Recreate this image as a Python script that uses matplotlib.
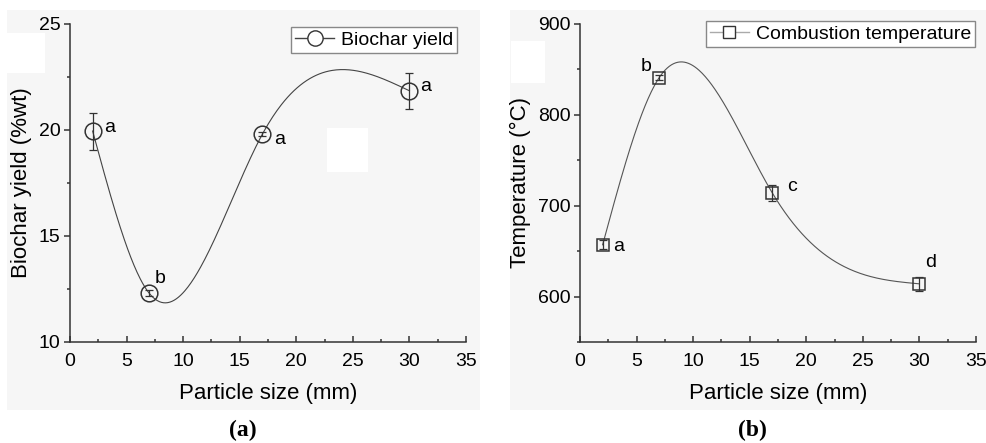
"""Biochar yield and combustion temperature vs particle size."""

import matplotlib as mpl
import numpy as np
from matplotlib import pyplot as plt
from matplotlib.patches import Rectangle
from matplotlib.ticker import MultipleLocator

mpl.use("Agg")

plt.rcParams["font.family"] = ["Liberation Sans", "DejaVu Sans"]

particle_size = [2, 7, 17, 30]

yield_values = [19.95, 12.3, 19.8, 21.85]
yield_errors = [0.87, 0.15, 0.1, 0.85]
yield_letters = ["a", "b", "a", "a"]
yield_offsets = [(17, 4), (11, 15), (17, -5), (16, 4)]

temp_values = [657, 841, 714, 614]
temp_errors = [5, 3, 9, 8]
temp_letters = ["a", "b", "c", "d"]
temp_offsets = [(16, -2), (-13, 11), (20, 6), (11, 21)]

W, H = 987, 443
BG = "#f6f6f6"
EDGE = "#333333"


def natural_spline(x, y, num=300):
    """Return a natural cubic spline through the given points."""
    x = np.asarray(x, dtype=float)
    y = np.asarray(y, dtype=float)
    n = len(x)
    h = np.diff(x)
    a = np.zeros((n, n))
    b = np.zeros(n)
    a[0, 0] = a[-1, -1] = 1.0
    for i in range(1, n - 1):
        a[i, i - 1] = h[i - 1]
        a[i, i] = 2 * (h[i - 1] + h[i])
        a[i, i + 1] = h[i]
        b[i] = 6 * ((y[i + 1] - y[i]) / h[i] - (y[i] - y[i - 1]) / h[i - 1])
    m = np.linalg.solve(a, b)
    xs = np.linspace(x[0], x[-1], num)
    idx = np.clip(np.searchsorted(x, xs) - 1, 0, n - 2)
    x0, x1 = x[idx], x[idx + 1]
    hh = x1 - x0
    t0, t1 = x1 - xs, xs - x0
    ys = (m[idx] * t0**3 + m[idx + 1] * t1**3) / (6 * hh) + (
        y[idx] / hh - m[idx] * hh / 6
    ) * t0 + (y[idx + 1] / hh - m[idx + 1] * hh / 6) * t1
    return xs, ys


def style_axes(ax, ylim, ymajor, yminor):
    ax.set_xlim(0, 35)
    ax.set_ylim(*ylim)
    ax.xaxis.set_major_locator(MultipleLocator(5))
    ax.xaxis.set_minor_locator(MultipleLocator(2.5))
    ax.yaxis.set_major_locator(MultipleLocator(ymajor))
    ax.yaxis.set_minor_locator(MultipleLocator(yminor))
    for side in ("top", "right"):
        ax.spines[side].set_visible(False)
    for side in ("left", "bottom"):
        ax.spines[side].set_color(EDGE)
        ax.spines[side].set_linewidth(1.1)
    ax.tick_params(axis="x", which="both", direction="in", colors=EDGE,
                   labelcolor="black", labelsize=14, pad=8)
    ax.tick_params(axis="y", which="both", direction="out", colors=EDGE,
                   labelcolor="black", labelsize=14, pad=3)
    ax.tick_params(which="major", length=4, width=1.1)
    ax.tick_params(which="minor", length=2.5, width=1.1)
    ax.set_xlabel("Particle size (mm)", fontsize=16, labelpad=9)


def draw_panel(ax, values, errors, letters, offsets, marker, msize, line_color):
    xs, ys = natural_spline(particle_size, values)
    ax.plot(xs, ys, color=line_color, lw=0.8, zorder=2)
    ax.errorbar(particle_size, values, yerr=errors, fmt="none", ecolor=EDGE,
                elinewidth=0.9, capsize=3, capthick=0.9, zorder=3)
    ax.plot(particle_size, values, linestyle="none", marker=marker,
            markersize=msize, markerfacecolor="none", markeredgecolor=EDGE,
            markeredgewidth=1.1, zorder=4)
    for x, y, text, off in zip(particle_size, values, letters, offsets):
        ax.annotate(text, (x, y), xytext=off, textcoords="offset pixels",
                    ha="center", va="center", fontsize=14)


fig = plt.figure(figsize=(W / 100, H / 100), dpi=100, facecolor="white")

# light grey panel backgrounds with the white patches seen in the source
for x0, y0, x1, y1, color in [
    (7, 10, 480, 410, BG),
    (510, 10, 987, 410, BG),
    (7, 33, 45, 73, "white"),
    (327, 128, 368, 172, "white"),
    (511, 41, 545, 83, "white"),
]:
    fig.patches.append(Rectangle((x0 / W, 1 - y1 / H), (x1 - x0) / W,
                                 (y1 - y0) / H, transform=fig.transFigure,
                                 facecolor=color, edgecolor="none", zorder=-5))

ax_a = fig.add_axes([70 / W, 1 - 342 / H, 396 / W, 318 / H])
ax_b = fig.add_axes([580 / W, 1 - 342 / H, 396 / W, 318 / H])
for ax in (ax_a, ax_b):
    ax.patch.set_alpha(0)

style_axes(ax_a, (10, 25), 5, 2.5)
draw_panel(ax_a, yield_values, yield_errors, yield_letters, yield_offsets,
           "o", 12, "#444444")
ax_a.set_ylabel("Biochar yield (%wt)", fontsize=16, labelpad=5)

style_axes(ax_b, (550, 900), 100, 50)
draw_panel(ax_b, temp_values, temp_errors, temp_letters, temp_offsets,
           "s", 9, "#555555")
ax_b.set_ylabel("Temperature (°C)", fontsize=16, labelpad=5)

legend_a = ax_a.legend(
    handles=[mpl.lines.Line2D([], [], color="#444444", lw=1.0, marker="o",
                              markersize=11, markerfacecolor="white",
                              markeredgecolor=EDGE)],
    labels=["Biochar yield"], loc="upper right",
    bbox_to_anchor=(0.977, 0.99), borderaxespad=0, fontsize=14,
    handlelength=2.0, handletextpad=0.35, borderpad=0.2, fancybox=False,
    edgecolor="#888888", facecolor="white", framealpha=1)
legend_a.get_frame().set_linewidth(1.0)

legend_b = ax_b.legend(
    handles=[mpl.lines.Line2D([], [], color="#aaaaaa", lw=1.0, marker="s",
                              markersize=8, markerfacecolor="white",
                              markeredgecolor=EDGE)],
    labels=["Combustion temperature"], loc="upper right",
    bbox_to_anchor=(0.997, 1.009), borderaxespad=0, fontsize=14,
    handlelength=2.0, handletextpad=0.35, borderpad=0.2, fancybox=False,
    edgecolor="#888888", facecolor="white", framealpha=1)
legend_b.get_frame().set_linewidth(1.0)

fig.text(0.246, 0.028, "(a)", ha="center", va="center", fontsize=17,
         fontweight="bold", family=["Liberation Serif", "DejaVu Serif"])
fig.text(0.762, 0.028, "(b)", ha="center", va="center", fontsize=17,
         fontweight="bold", family=["Liberation Serif", "DejaVu Serif"])

fig.savefig("out.png", dpi=100, facecolor="white")
plt.close(fig)
